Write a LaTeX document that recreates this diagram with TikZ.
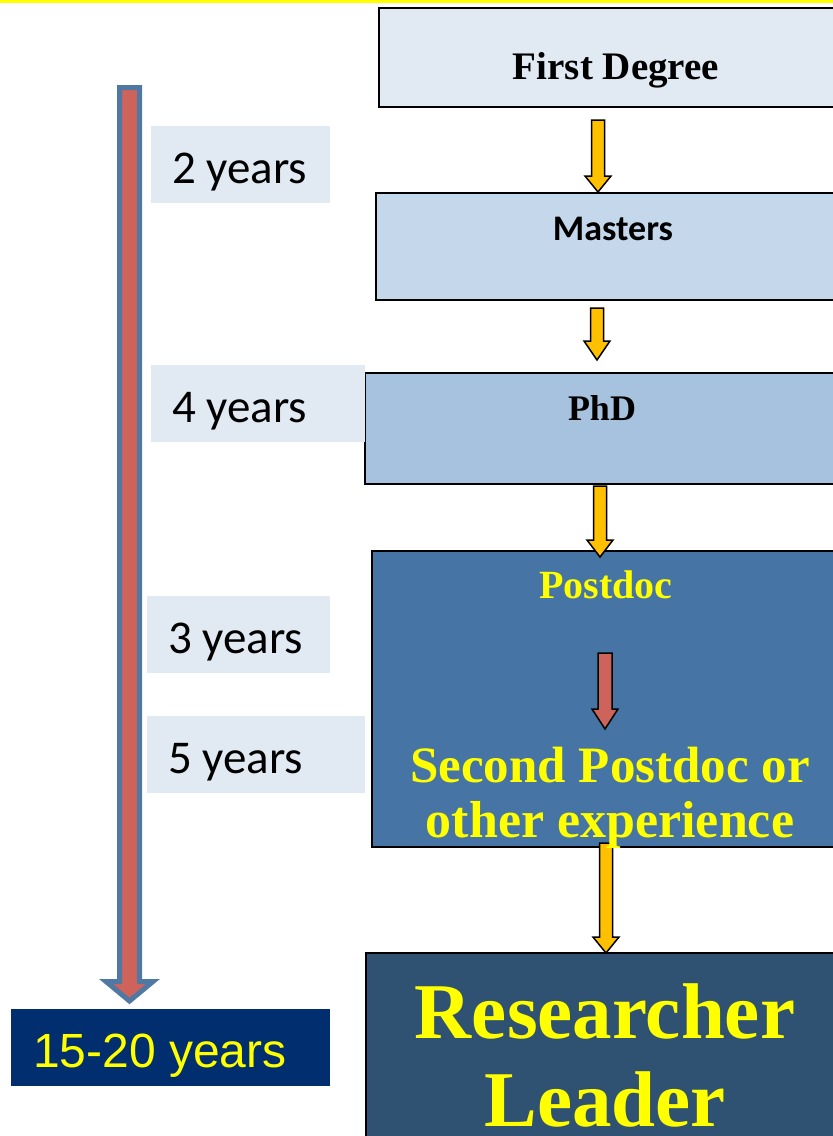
\documentclass[tikz,border=0pt]{standalone}
\usepackage{fontspec}
\setmainfont{Liberation Serif}
\newfontfamily\calfont{Carlito}
\newfontfamily\arialfont{Liberation Sans}
\usetikzlibrary{calc}
\definecolor{lightbox}{HTML}{E1E9F3}
\definecolor{mastersfill}{HTML}{C5D7EA}
\definecolor{phdfill}{HTML}{A7C2DF}
\definecolor{postdocfill}{HTML}{4674A4}
\definecolor{leaderfill}{HTML}{2F5172}
\definecolor{navy}{HTML}{002E6E}
\definecolor{txtyellow}{HTML}{FFFF00}
\definecolor{arrowyellow}{HTML}{FFC000}
\definecolor{arrowred}{HTML}{CD635A}
\definecolor{timeblue}{HTML}{4F79A3}
\newcommand{\blockarrow}[5]{% style, from, to, shaft half width, head length
  \path[#1] let \p1=(#2), \p2=(#3) in
    (\x1-#4pt,\y1) -- (\x1+#4pt,\y1) -- (\x1+#4pt,\y2+#5pt) -- (\x1+13pt,\y2+#5pt)
    -- (\x1,\y2) -- (\x1-13pt,\y2+#5pt) -- (\x1-#4pt,\y2+#5pt) -- cycle;}
\tikzset{
  stagebox/.style={draw=black, line width=2pt, rectangle, inner sep=0pt},
  yearbox/.style={fill=lightbox, rectangle, inner sep=0pt, minimum height=77pt},
  yeartext/.style={anchor=base west, inner sep=0pt, font=\calfont\fontsize{47}{52}\selectfont},
  yellowarrow/.style={fill=arrowyellow, draw=black, line width=1.5pt, line join=miter},
  redarrow/.style={fill=arrowred, draw=black, line width=1.5pt, line join=miter},
  boxtext/.style={anchor=base, inner sep=0pt, font=\bfseries},
}
\begin{document}
\begin{tikzpicture}[x=1pt, y=-1pt]
\clip (0,0) rectangle (833,1136);
\fill[white] (0,0) rectangle (833,1136);
\fill[txtyellow] (0,0) rectangle (833,3);

% stage boxes
\node[stagebox, fill=lightbox, minimum width=474pt, minimum height=99pt] (fd) at (616,57.5) {};
\node[stagebox, fill=mastersfill, minimum width=474pt, minimum height=107pt] (ms) at (613,246.5) {};
\node[stagebox, fill=phdfill, minimum width=474pt, minimum height=111pt] (phd) at (602,428.5) {};
\node[stagebox, fill=postdocfill, minimum width=468pt, minimum height=296pt] (pd) at (606,699) {};
\node[stagebox, fill=leaderfill, minimum width=478pt, minimum height=200pt] (rl) at (605,1053) {};

% connector coordinates
\coordinate (a1s) at (598,120); \coordinate (a1e) at (598,192);
\coordinate (a2s) at (597,308); \coordinate (a2e) at (597,360);
\coordinate (a3s) at (600,486); \coordinate (a3e) at (600,557);
\coordinate (a4s) at (606,843); \coordinate (a4e) at (606,953);
\coordinate (a5s) at (605,653); \coordinate (a5e) at (605,729);

\blockarrow{yellowarrow}{a1s}{a1e}{6.5}{16}
\blockarrow{yellowarrow}{a2s}{a2e}{6.5}{19}
\blockarrow{yellowarrow}{a3s}{a3e}{6.5}{17}
\blockarrow{yellowarrow}{a4s}{a4e}{6.5}{16}
\blockarrow{redarrow}{a5s}{a5e}{7}{20}

% stage texts
\node[boxtext, font=\bfseries\fontsize{39}{44}\selectfont] (fdt) at (616,79) {First Degree};
\node[boxtext, font=\calfont\bfseries\fontsize{36}{40}\selectfont] (mst) at (613,240) {Masters};
\node[boxtext, font=\bfseries\fontsize{36}{40}\selectfont] (phdt) at (602,420) {PhD};
\node[boxtext, text=txtyellow, font=\bfseries\fontsize{40}{44}\selectfont] (pdt) at (606,598) {Postdoc};
\node[boxtext, text=txtyellow, font=\bfseries\fontsize{51}{55}\selectfont] (pd2a) at (610,782) {Second Postdoc or};
\node[boxtext, text=txtyellow, font=\bfseries\fontsize{52}{55}\selectfont] (pd2b) at (610,837) {other experience};
\node[boxtext, text=txtyellow, font=\bfseries\fontsize{79}{88}\selectfont] (rlta) at (605,1038) {Researcher};
\node[boxtext, text=txtyellow, font=\bfseries\fontsize{79}{88}\selectfont] (rltb) at (605,1126) {Leader};

% year boxes
\node[yearbox, minimum width=179pt] (y2) at (240.5,164.5) {};
\node[yeartext] (y2t) at (172,183) {2 years};
\node[yearbox, minimum width=214pt] (y4) at (258,403.5) {};
\node[yeartext] (y4t) at (172,422) {4 years};
\node[yearbox, minimum width=183pt] (y3) at (238.5,634.5) {};
\node[yeartext] (y3t) at (168,653) {3 years};
\node[yearbox, minimum width=218pt] (y5) at (256,754.5) {};
\node[yeartext] (y5t) at (168,773) {5 years};

% total
\node[fill=navy, rectangle, inner sep=0pt, minimum width=319pt, minimum height=77pt] (tot) at (170.5,1047.5) {};
\node[anchor=base west, inner sep=0pt, text=txtyellow, font=\arialfont\fontsize{48}{52}\selectfont] (tott) at (33,1067) {15-20 years};

% timeline arrow
\coordinate (tls) at (129.5,87.5);
\coordinate (tle) at (129.5,1001);
\path[fill=arrowred, draw=timeblue, line width=5pt, line join=miter]
  let \p1=(tls), \p2=(tle) in
  (\x1-10pt,\y1) -- (\x1+10pt,\y1) -- (\x1+10pt,\y2+19.5pt) -- (\x1+23.5pt,\y2+19.5pt)
  -- (\x1,\y2) -- (\x1-23.5pt,\y2+19.5pt) -- (\x1-10pt,\y2+19.5pt) -- cycle;
\end{tikzpicture}
\end{document}
